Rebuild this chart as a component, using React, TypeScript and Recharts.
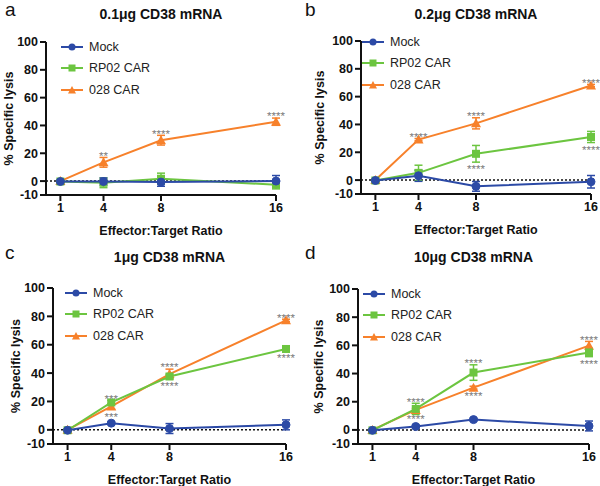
import React from "react";
import {
  LineChart,
  Line,
  XAxis,
  YAxis,
  ErrorBar,
  ReferenceLine,
  LabelList,
  Label,
} from "recharts";

// E:T ratios and axis ticks
const ratios = [1, 4, 8, 16];
const xTicks = [1, 4, 8, 16];
const yTicks = [-10, 0, 20, 40, 60, 80, 100];
const seriesNames = ["Mock", "RP02 CAR", "028 CAR"];

// a: 0.1ug
const mockA = [-0.3, -0.3, -0.7, 0];
const mockAErr = [0.8, 2.5, 3, 4];
const rpA = [-0.3, -1.2, 1.7, -2.6];
const rpAErr = [0.8, 3.5, 4, 3];
const carA = [0, 13.5, 29.4, 42.7];
const carAErr = [0.5, 3.5, 3.5, 2.6];
const rpAUp = ["", "", "", ""];
const rpADown = ["", "", "", ""];
const carAUp = ["", "**", "****", "****"];
const carADown = ["", "", "", ""];

// b: 0.2ug
const mockB = [-0.3, 3.1, -4.5, -1.2];
const mockBErr = [0.8, 4, 3.5, 4.5];
const rpB = [-0.3, 5.2, 18.9, 31];
const rpBErr = [0.8, 5.5, 6, 4];
const carB = [0, 29.1, 40.8, 68];
const carBErr = [0.5, 0.8, 4, 0.8];
const rpBUp = ["", "", "", ""];
const rpBDown = ["", "", "****", "****"];
const carBUp = ["", "****", "****", "****"];
const carBDown = ["", "", "", ""];

// c: 1ug
const mockC = [-0.3, 4.7, 0.9, 3.5];
const mockCErr = [0.8, 1, 3.5, 3.5];
const rpC = [-0.3, 19.3, 37.6, 57];
const rpCErr = [0.8, 1.5, 1.5, 1];
const carC = [0, 16.5, 39.3, 77.2];
const carCErr = [0.5, 2, 3.5, 0.8];
const rpCUp = ["", "***", "", ""];
const rpCDown = ["", "", "****", "****"];
const carCUp = ["", "", "****", "****"];
const carCDown = ["", "***", "", ""];

// d: 10ug
const mockD = [-0.3, 2.4, 7.3, 2.8];
const mockDErr = [0.8, 1, 1, 3.5];
const rpD = [-0.3, 14.9, 40.7, 55];
const rpDErr = [0.8, 4, 5.5, 3];
const carD = [0, 14.2, 30, 59.8];
const carDErr = [0.5, 1, 1, 3];
const rpDUp = ["", "****", "****", ""];
const rpDDown = ["", "", "", "****"];
const carDUp = ["", "", "", "****"];
const carDDown = ["", "****", "****", ""];

const BLUE = "#2c4aa6";
const GREEN = "#6cc540";
const ORANGE = "#f7812b";
const FONT = "'Liberation Sans', Arial, Helvetica, sans-serif";

function buildRows(
  mock: number[], mockErr: number[],
  rp: number[], rpErr: number[],
  car: number[], carErr: number[],
  rpUp: string[], rpDown: string[],
  carUp: string[], carDown: string[]
) {
  return ratios.map((r, i) => ({
    r,
    mock: mock[i], mockErr: mockErr[i],
    rp: rp[i], rpErr: rpErr[i],
    car: car[i], carErr: carErr[i],
    rpUp: rpUp[i], rpDown: rpDown[i],
    carUp: carUp[i], carDown: carDown[i],
  }));
}

const circleDot = (color: string) => (p: any) => (
  <circle key={`c${p.index}`} cx={p.cx} cy={p.cy} r={4} fill={color} stroke={color} />
);
const squareDot = (color: string) => (p: any) => (
  <rect key={`s${p.index}`} x={p.cx - 4} y={p.cy - 4} width={8} height={8} fill={color} />
);
const triDot = (color: string) => (p: any) => (
  <path
    key={`t${p.index}`}
    d={`M${p.cx},${p.cy - 5} L${p.cx + 5},${p.cy + 4} L${p.cx - 5},${p.cy + 4} Z`}
    fill={color}
  />
);

function legendIcon(i: number, color: string) {
  const cx = 11, cy = 6;
  let mark;
  if (i === 0) mark = <circle cx={cx} cy={cy} r={3.5} fill={color} />;
  else if (i === 1) mark = <rect x={cx - 3.5} y={cy - 3.5} width={7} height={7} fill={color} />;
  else mark = <path d={`M${cx},${cy - 4} L${cx + 4},${cy + 3.5} L${cx - 4},${cy + 3.5} Z`} fill={color} />;
  return (
    <svg width={22} height={12} style={{ marginRight: 6 }}>
      <line x1={0} y1={cy} x2={22} y2={cy} stroke={color} strokeWidth={2} />
      {mark}
    </svg>
  );
}

const LegendBox = ({ left, top }: { left: number; top: number }) => (
  <div style={{ position: "absolute", left, top, fontFamily: FONT, fontSize: 12.5, color: "#222" }}>
    {seriesNames.map((name, i) => (
      <div key={name} style={{ display: "flex", alignItems: "center", height: 21.5 }}>
        {legendIcon(i, [BLUE, GREEN, ORANGE][i])}
        {name}
      </div>
    ))}
  </div>
);

// stars above / below an error bar
function starLabel(errs: number[], pxPerUnit: number, below: boolean) {
  return (p: any) => {
    const v = p.value;
    if (!v) return null;
    const e = (errs[p.index] ?? 0) * pxPerUnit;
    const fs = 11.5;
    const centre = below ? p.y + e + 5 : p.y - e - 4;
    return (
      <text
        x={p.x}
        y={centre + fs * 0.55}
        textAnchor="middle"
        fontSize={fs}
        fontFamily={FONT}
        fill="#7a7a7a"
      >
        {v}
      </text>
    );
  };
}

interface PanelProps {
  letter: string;
  title: string;
  rows: any[];
  left: number;
  top: number;
  margin: { top: number; right: number; bottom: number; left: number };
  legendPos: { left: number; top: number };
  yLabelX: number;
}

function Panel({ letter, title, rows, left, top, margin, legendPos, yLabelX }: PanelProps) {
  const W = 300, H = 243, yW = 40, xH = 40;
  const plotH = H - margin.top - margin.bottom - xH;
  const ppu = plotH / 110;
  const plotCx = margin.left + yW + (W - margin.left - yW - margin.right) / 2;
  const rpErr = rows.map((d) => d.rpErr);
  const carErr = rows.map((d) => d.carErr);
  const tick = { fontSize: 12.5, fontWeight: 700, fill: "#111", fontFamily: FONT };
  return (
    <div style={{ position: "absolute", left, top, width: W, height: H }}>
      <div style={{ position: "absolute", left: 5, top: 0, fontSize: 19, lineHeight: "20px", fontFamily: FONT, color: "#111" }}>
        {letter}
      </div>
      <div
        style={{
          position: "absolute",
          left: plotCx - 100,
          width: 200,
          top: 6,
          textAlign: "center",
          fontSize: 14,
          fontWeight: 700,
          fontFamily: FONT,
          color: "#111",
        }}
      >
        {title}
      </div>
      <LineChart width={W} height={H} data={rows} margin={margin}>
        <XAxis
          dataKey="r"
          type="number"
          domain={[0, 16]}
          ticks={xTicks}
          interval={0}
          height={xH}
          tick={tick}
          tickSize={6}
          axisLine={{ stroke: "#111", strokeWidth: 2 }}
          tickLine={{ stroke: "#111", strokeWidth: 2 }}
        >
          <Label
            value="Effector:Target Ratio"
            position="insideBottom"
            offset={0}
            style={{ fontSize: 12.5, fontWeight: 700, fill: "#111", fontFamily: FONT }}
          />
        </XAxis>
        <YAxis
          type="number"
          domain={[-10, 100]}
          ticks={yTicks}
          interval={0}
          width={yW}
          tick={tick}
          tickSize={6}
          axisLine={{ stroke: "#111", strokeWidth: 2 }}
          tickLine={{ stroke: "#111", strokeWidth: 2 }}
        >
          <Label
            value="% Specific lysis"
            angle={-90}
            position="insideLeft"
            offset={yLabelX - margin.left}
            style={{ textAnchor: "middle", fontSize: 12.5, fontWeight: 700, fill: "#111", fontFamily: FONT }}
          />
        </YAxis>
        <ReferenceLine y={0} stroke="#111" strokeWidth={1.5} strokeDasharray="2 2" />
        <Line
          dataKey="car"
          stroke={ORANGE}
          strokeWidth={2}
          dot={triDot(ORANGE)}
          isAnimationActive={false}
        >
          <ErrorBar dataKey="carErr" width={4} stroke={ORANGE} strokeWidth={1.5} direction="y" />
          <LabelList dataKey="carUp" content={starLabel(carErr, ppu, false)} />
          <LabelList dataKey="carDown" content={starLabel(carErr, ppu, true)} />
        </Line>
        <Line
          dataKey="rp"
          stroke={GREEN}
          strokeWidth={2}
          dot={squareDot(GREEN)}
          isAnimationActive={false}
        >
          <ErrorBar dataKey="rpErr" width={4} stroke={GREEN} strokeWidth={1.5} direction="y" />
          <LabelList dataKey="rpUp" content={starLabel(rpErr, ppu, false)} />
          <LabelList dataKey="rpDown" content={starLabel(rpErr, ppu, true)} />
        </Line>
        <Line
          dataKey="mock"
          stroke={BLUE}
          strokeWidth={2}
          dot={circleDot(BLUE)}
          isAnimationActive={false}
        >
          <ErrorBar dataKey="mockErr" width={4} stroke={BLUE} strokeWidth={1.5} direction="y" />
        </Line>
      </LineChart>
      <LegendBox left={legendPos.left} top={legendPos.top} />
    </div>
  );
}

export default function App() {
  const rowsA = buildRows(mockA, mockAErr, rpA, rpAErr, carA, carAErr, rpAUp, rpADown, carAUp, carADown);
  const rowsB = buildRows(mockB, mockBErr, rpB, rpBErr, carB, carBErr, rpBUp, rpBDown, carBUp, carBDown);
  const rowsC = buildRows(mockC, mockCErr, rpC, rpCErr, carC, carCErr, rpCUp, rpCDown, carCUp, carCDown);
  const rowsD = buildRows(mockD, mockDErr, rpD, rpDErr, carD, carDErr, rpDUp, rpDDown, carDUp, carDDown);
  return (
    <div style={{ position: "absolute", left: 0, top: 0, width: 600, height: 486, background: "#fff", overflow: "hidden" }}>
      <Panel
        letter="a"
        title="0.1μg CD38 mRNA"
        rows={rowsA}
        left={0}
        top={0}
        margin={{ top: 42, right: 24, bottom: 8, left: 6 }}
        legendPos={{ left: 61, top: 36 }}
        yLabelX={9}
      />
      <Panel
        letter="b"
        title="0.2μg CD38 mRNA"
        rows={rowsB}
        left={300}
        top={0}
        margin={{ top: 41, right: 9, bottom: 9, left: 21 }}
        legendPos={{ left: 62, top: 31 }}
        yLabelX={20}
      />
      <Panel
        letter="c"
        title="1μg CD38 mRNA"
        rows={rowsC}
        left={0}
        top={243}
        margin={{ top: 45, right: 14, bottom: 2, left: 13 }}
        legendPos={{ left: 65, top: 39 }}
        yLabelX={16}
      />
      <Panel
        letter="d"
        title="10μg CD38 mRNA"
        rows={rowsD}
        left={300}
        top={243}
        margin={{ top: 46, right: 11, bottom: 2, left: 18 }}
        legendPos={{ left: 63, top: 40 }}
        yLabelX={19}
      />
    </div>
  );
}
